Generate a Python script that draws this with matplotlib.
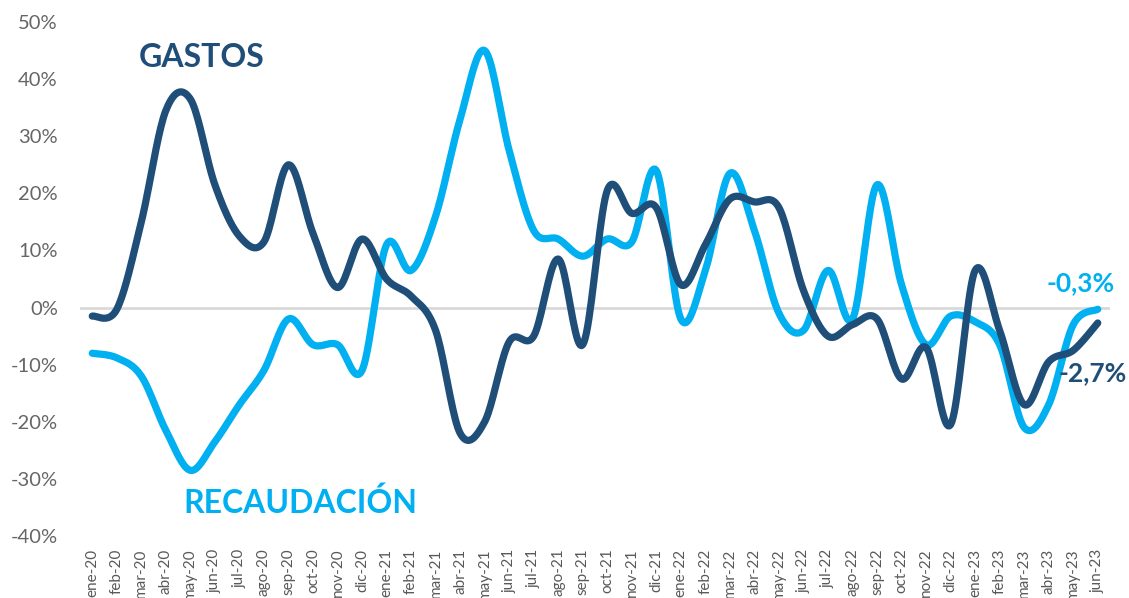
import numpy as np
import matplotlib.pyplot as plt
from matplotlib.ticker import FuncFormatter

# meses ene-20 .. jun-23
meses = ["ene-20", "feb-20", "mar-20", "abr-20", "may-20", "jun-20", "jul-20", "ago-20",
         "sep-20", "oct-20", "nov-20", "dic-20",
         "ene-21", "feb-21", "mar-21", "abr-21", "may-21", "jun-21", "jul-21", "ago-21",
         "sep-21", "oct-21", "nov-21", "dic-21",
         "ene-22", "feb-22", "mar-22", "abr-22", "may-22", "jun-22", "jul-22", "ago-22",
         "sep-22", "oct-22", "nov-22", "dic-22",
         "ene-23", "feb-23", "mar-23", "abr-23", "may-23", "jun-23"]

# variacion interanual (%)
gastos = [-1.5, -0.3, 15.0, 34.5, 36.5, 21.5, 12.5, 11.5, 25.0, 13.0, 3.5, 12.0,
          5.0, 2.0, -4.0, -22.0, -20.0, -6.0, -5.0, 8.5, -6.5, 20.5, 16.5, 17.5,
          4.0, 11.0, 19.0, 18.5, 17.5, 3.0, -5.0, -3.0, -2.0, -12.5, -7.0, -20.5,
          6.5, -4.0, -17.0, -9.5, -7.5, -2.7]
recaudacion = [-8.0, -8.8, -12.0, -21.5, -28.5, -23.5, -17.0, -11.0, -2.0, -6.5, -6.5, -11.0,
               11.0, 6.5, 16.0, 33.0, 45.0, 27.5, 13.5, 12.0, 9.0, 12.0, 11.5, 24.0,
               -2.0, 6.5, 23.5, 13.5, -1.0, -4.0, 6.5, -2.0, 21.5, 4.0, -6.5, -1.5,
               -2.5, -6.5, -21.0, -17.0, -3.0, -0.3]

AZUL_OSC = "#1F4E79"
AZUL_CLA = "#00B0F0"
GRIS = "#595959"


def suavizar(xs, ys, n=20):
    # spline Catmull-Rom parametrica (como la linea suavizada de Excel)
    p = np.column_stack([xs, ys]).astype(float)
    p = np.vstack([p[0], p, p[-1]])
    out = []
    t = np.linspace(0, 1, n, endpoint=False)
    for i in range(1, len(p) - 2):
        p0, p1, p2, p3 = p[i - 1], p[i], p[i + 1], p[i + 2]
        t2, t3 = t ** 2, t ** 3
        seg = 0.5 * ((2 * p1)[None, :] + np.outer(t, -p0 + p2)
                     + np.outer(t2, 2 * p0 - 5 * p1 + 4 * p2 - p3)
                     + np.outer(t3, -p0 + 3 * p1 - 3 * p2 + p3))
        out.append(seg)
    out.append(p[-2][None, :])
    s = np.vstack(out)
    return s[:, 0], s[:, 1]


plt.rcParams["font.family"] = ["Lato", "DejaVu Sans"]

fig = plt.figure(figsize=(11.29, 5.98), dpi=100)
ax = fig.add_axes([80 / 1129, 62 / 598, 1030 / 1129, 514 / 598])

x = np.arange(len(meses))
ax.axhline(0, color="#D9D9D9", lw=2, zorder=1)

xr, yr = suavizar(x, recaudacion)
ax.plot(xr, yr, color=AZUL_CLA, lw=5.2, solid_capstyle="round", zorder=2)
xg, yg = suavizar(x, gastos)
ax.plot(xg, yg, color=AZUL_OSC, lw=5.2, solid_capstyle="round", zorder=3)

ax.set_xlim(-0.5, len(meses) - 0.5)
ax.set_ylim(-40, 50)
ax.set_yticks(range(-40, 51, 10))
ax.yaxis.set_major_formatter(FuncFormatter(lambda v, _: f"{v:.0f}%"))
ax.set_xticks(x)
ax.set_xticklabels(meses, rotation=90, fontsize=11, color=GRIS)
ax.tick_params(axis="y", labelsize=14.5, colors="#666666", length=0, pad=16)
ax.tick_params(axis="x", length=0, pad=9)
for s in ax.spines.values():
    s.set_visible(False)

# etiquetas de series
ax.text(4.45, 43.8, "GASTOS", color=AZUL_OSC, fontsize=23, fontweight="bold",
        ha="center", va="center")
ax.text(8.5, -34.2, "RECAUDACIÓN", color=AZUL_CLA, fontsize=23, fontweight="bold",
        ha="center", va="center")
ax.text(40.3, 4.3, "-0,3%", color=AZUL_CLA, fontsize=19, fontweight="bold",
        ha="center", va="center")
ax.text(40.8, -11.5, "-2,7%", color=AZUL_OSC, fontsize=19, fontweight="bold",
        ha="center", va="center")

fig.savefig("out.png", dpi=100)
